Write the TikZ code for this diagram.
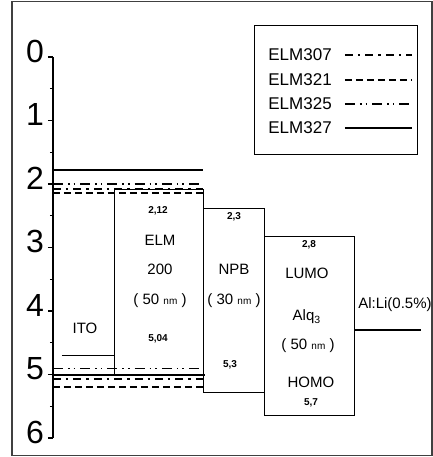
\documentclass[tikz,border=0pt]{standalone}
\usepackage{fontspec}
\setmainfont{Liberation Sans}
\begin{document}
\begin{tikzpicture}[x=0.5pt,y=-31.75pt,
  lvl307/.style={line width=0.9pt,dash pattern=on 4pt off 2.5pt on 1.2pt off 2.5pt},
  lvl321/.style={line width=0.9pt,dash pattern=on 3.5pt off 2pt},
  lvl325/.style={line width=0.6pt,dash pattern=on 5pt off 2.5pt on 0.8pt off 2pt on 0.8pt off 2.5pt},
  lvl327/.style={line width=1pt},
  band/.style={draw,line width=0.5pt},
  axlbl/.style={font=\fontsize{16}{17}\selectfont},
  leg/.style={font=\fontsize{8.5}{9}\selectfont,anchor=west,inner sep=0pt},
  lbl/.style={font=\fontsize{7.5}{8}\selectfont,inner sep=0pt},
  val/.style={font=\fontsize{5}{6}\selectfont\bfseries,inner sep=0pt}]
\useasboundingbox (0,-0.898) rectangle (433,6.299);
\draw[black!75,line width=0.6pt] (12,-0.87) rectangle (432,6.27);

% energy axis
\draw[line width=0.6pt] (53,0) -- (53,6);
\foreach \e in {0,...,6} {
  \draw[line width=0.6pt] (48,\e) -- (53,\e);
  \node[axlbl] (ax\e) at (35,\e-0.09) {\e};
}
\foreach \e in {0.5,1.5,...,5.5}
  \draw[line width=0.6pt] (50,\e) -- (53,\e);

% ITO
\draw[line width=0.6pt] (62,4.7) -- (115,4.7);
\node[lbl] (ito) at (85,4.28) {ITO};

% ELM levels
\draw[lvl327] (53,1.78) -- (203,1.78);
\draw[lvl325] (53,2.0) -- (203,2.0);
\draw[lvl307] (53,2.08) -- (203,2.08);
\draw[lvl321] (53,2.14) -- (203,2.14);
\draw[lvl325] (53,4.9) -- (203,4.9);
\draw[lvl327] (53,5.0) -- (205,5.0);
\draw[lvl307] (53,5.07) -- (203,5.07);
\draw[lvl321] (53,5.2) -- (203,5.2);

% ELM 200
\draw[band] (115,2.08) rectangle (204,5.02);
\node[val] (elmlumo) at (158,2.42) {2,12};
\node[lbl] (elm) at (160,2.88) {ELM};
\node[lbl] (elmnum) at (160,3.35) {200};
\node[lbl] (elmthk) at (160,3.83) {( 50 {\fontsize{5}{6}\selectfont nm} )};
\node[val] (elmhomo) at (158,4.43) {5,04};

% NPB
\draw[band] (204,2.38) rectangle (265,5.29);
\node[val] (npblumo) at (234,2.52) {2,3};
\node[lbl] (npb) at (234,3.35) {NPB};
\node[lbl] (npbthk) at (234,3.83) {( 30 {\fontsize{5}{6}\selectfont nm} )};
\node[val] (npbhomo) at (230,4.85) {5,3};

% Alq3
\draw[band] (265,2.83) rectangle (355,5.65);
\node[val] (alqlumo) at (309,2.96) {2,8};
\node[lbl] (lumo) at (307,3.4) {LUMO};
\node[lbl] (alq) at (307,4.09) {Alq\textsubscript{3}};
\node[lbl] (alqthk) at (308,4.54) {( 50 {\fontsize{5}{6}\selectfont nm} )};
\node[lbl] (homo) at (311,5.12) {HOMO};
\node[val] (alqhomo) at (311,5.45) {5,7};

% cathode
\draw[line width=0.6pt] (355,4.3) -- (421,4.3);
\node[lbl] (alli) at (395,3.9) {Al:Li(0.5\%)};

% legend
\draw[band] (255,-0.49) rectangle (418,1.54);
\foreach \n/\y/\s in {307/-0.03/lvl307,321/0.36/lvl321,325/0.74/lvl325,327/1.12/lvl327} {
  \node[leg] (leg\n) at (268,\y) {ELM\n};
  \draw[\s] (345,\y) -- (412,\y);
}
\end{tikzpicture}
\end{document}
